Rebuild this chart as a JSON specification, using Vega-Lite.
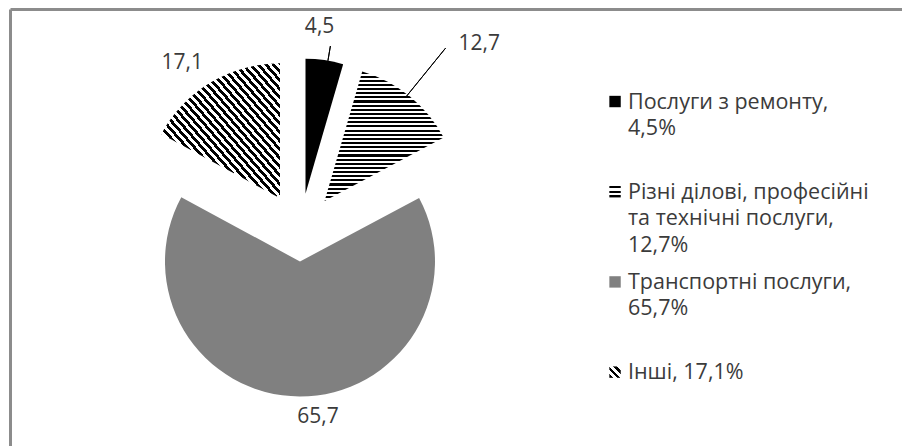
{
  "$schema": "https://vega.github.io/schema/vega-lite/v6.json",
  "width": 892,
  "height": 437,
  "autosize": {"type": "none"},
  "padding": {"left": 10, "top": 9, "right": 0, "bottom": 0},
  "background": "white",
  "config": {
    "view": {"stroke": null},
    "axis": {"domainColor": "#8c8c8c", "domainWidth": 3, "ticks": false, "labels": false, "grid": false, "title": null},
    "locale": {"number": {"decimal": ",", "thousands": " ", "grouping": [3], "currency": ["", ""]}},
    "text": {"font": "Open Sans", "fontSize": 20, "fill": "#3b3b3b"}
  },
  "data": {
    "values": [
      {"category": "Послуги з ремонту", "value": 4.5, "legend": "Послуги з ремонту,\n4,5%"},
      {"category": "Різні ділові, професійні та технічні послуги", "value": 12.7, "legend": "Різні ділові, професійні\nта технічні послуги,\n12,7%"},
      {"category": "Транспортні послуги", "value": 65.7, "legend": "Транспортні послуги,\n65,7%"},
      {"category": "Інші", "value": 17.1, "legend": "Інші, 17,1%"}
    ]
  },
  "transform": [{"stack": "value", "groupby": [], "as": ["v0", "v1"]}],
  "layer": [
    {
      "encoding": {
        "x": {"datum": 32.51, "type": "quantitative", "scale": {"domain": [0, 100]}, "axis": {"orient": "top", "title": null}}
      },
      "layer": [
        {
          "transform": [{"filter": {"field": "category", "equal": "Послуги з ремонту"}}],
          "encoding": {
            "theta": {"field": "v0", "type": "quantitative", "scale": {"domain": [0, 100]}},
            "theta2": {"field": "v1"}
          },
          "layer": [
            {"mark": {"type": "arc", "outerRadius": 135, "fill": "#000000", "xOffset": 5.5, "yOffset": -33.7}},
            {"mark": {"type": "arc", "innerRadius": 169, "outerRadius": 184, "filled": false, "fill": null, "stroke": "#000000", "strokeWidth": 1, "thetaOffset": 0.166, "theta2Offset": 0.166},
             "encoding": {"theta2": {"field": "v0"}}}
          ]
        },
        {
          "transform": [{"filter": {"field": "category", "equal": "Різні ділові, професійні та технічні послуги"}}],
          "encoding": {
            "theta": {"field": "v0", "type": "quantitative", "scale": {"domain": [0, 100]}},
            "theta2": {"field": "v1"}
          },
          "layer": [
            {"mark": {"type": "arc", "outerRadius": 135, "xOffset": 24.6, "yOffset": -26.4,
              "fill": {"gradient": "linear", "x1": 0, "y1": 0, "x2": 0, "y2": 1, "stops": [
                {"offset": 0, "color": "#000"}, {"offset": 0.016, "color": "#000"},
                {"offset": 0.016, "color": "#fff"}, {"offset": 0.032, "color": "#fff"},
                {"offset": 0.032, "color": "#000"}, {"offset": 0.048, "color": "#000"},
                {"offset": 0.048, "color": "#fff"}, {"offset": 0.064, "color": "#fff"},
                {"offset": 0.064, "color": "#000"}, {"offset": 0.08, "color": "#000"},
                {"offset": 0.08, "color": "#fff"}, {"offset": 0.096, "color": "#fff"},
                {"offset": 0.096, "color": "#000"}, {"offset": 0.112, "color": "#000"},
                {"offset": 0.112, "color": "#fff"}, {"offset": 0.128, "color": "#fff"},
                {"offset": 0.128, "color": "#000"}, {"offset": 0.144, "color": "#000"},
                {"offset": 0.144, "color": "#fff"}, {"offset": 0.16, "color": "#fff"},
                {"offset": 0.16, "color": "#000"}, {"offset": 0.176, "color": "#000"},
                {"offset": 0.176, "color": "#fff"}, {"offset": 0.192, "color": "#fff"},
                {"offset": 0.192, "color": "#000"}, {"offset": 0.208, "color": "#000"},
                {"offset": 0.208, "color": "#fff"}, {"offset": 0.224, "color": "#fff"},
                {"offset": 0.224, "color": "#000"}, {"offset": 0.24, "color": "#000"},
                {"offset": 0.24, "color": "#fff"}, {"offset": 0.256, "color": "#fff"},
                {"offset": 0.256, "color": "#000"}, {"offset": 0.272, "color": "#000"},
                {"offset": 0.272, "color": "#fff"}, {"offset": 0.288, "color": "#fff"},
                {"offset": 0.288, "color": "#000"}, {"offset": 0.304, "color": "#000"},
                {"offset": 0.304, "color": "#fff"}, {"offset": 0.32, "color": "#fff"},
                {"offset": 0.32, "color": "#000"}, {"offset": 0.336, "color": "#000"},
                {"offset": 0.336, "color": "#fff"}, {"offset": 0.352, "color": "#fff"},
                {"offset": 0.352, "color": "#000"}, {"offset": 0.368, "color": "#000"},
                {"offset": 0.368, "color": "#fff"}, {"offset": 0.384, "color": "#fff"},
                {"offset": 0.384, "color": "#000"}, {"offset": 0.4, "color": "#000"},
                {"offset": 0.4, "color": "#fff"}, {"offset": 0.416, "color": "#fff"},
                {"offset": 0.416, "color": "#000"}, {"offset": 0.432, "color": "#000"},
                {"offset": 0.432, "color": "#fff"}, {"offset": 0.448, "color": "#fff"},
                {"offset": 0.448, "color": "#000"}, {"offset": 0.464, "color": "#000"},
                {"offset": 0.464, "color": "#fff"}, {"offset": 0.48, "color": "#fff"},
                {"offset": 0.48, "color": "#000"}, {"offset": 0.496, "color": "#000"},
                {"offset": 0.496, "color": "#fff"}, {"offset": 0.512, "color": "#fff"},
                {"offset": 0.512, "color": "#000"}, {"offset": 0.528, "color": "#000"},
                {"offset": 0.528, "color": "#fff"}, {"offset": 0.544, "color": "#fff"},
                {"offset": 0.544, "color": "#000"}, {"offset": 0.56, "color": "#000"},
                {"offset": 0.56, "color": "#fff"}, {"offset": 0.576, "color": "#fff"},
                {"offset": 0.576, "color": "#000"}, {"offset": 0.592, "color": "#000"},
                {"offset": 0.592, "color": "#fff"}, {"offset": 0.608, "color": "#fff"},
                {"offset": 0.608, "color": "#000"}, {"offset": 0.624, "color": "#000"},
                {"offset": 0.624, "color": "#fff"}, {"offset": 0.64, "color": "#fff"},
                {"offset": 0.64, "color": "#000"}, {"offset": 0.656, "color": "#000"},
                {"offset": 0.656, "color": "#fff"}, {"offset": 0.672, "color": "#fff"},
                {"offset": 0.672, "color": "#000"}, {"offset": 0.688, "color": "#000"},
                {"offset": 0.688, "color": "#fff"}, {"offset": 0.704, "color": "#fff"},
                {"offset": 0.704, "color": "#000"}, {"offset": 0.72, "color": "#000"},
                {"offset": 0.72, "color": "#fff"}, {"offset": 0.736, "color": "#fff"},
                {"offset": 0.736, "color": "#000"}, {"offset": 0.752, "color": "#000"},
                {"offset": 0.752, "color": "#fff"}, {"offset": 0.768, "color": "#fff"},
                {"offset": 0.768, "color": "#000"}, {"offset": 0.784, "color": "#000"},
                {"offset": 0.784, "color": "#fff"}, {"offset": 0.8, "color": "#fff"},
                {"offset": 0.8, "color": "#000"}, {"offset": 0.816, "color": "#000"},
                {"offset": 0.816, "color": "#fff"}, {"offset": 0.832, "color": "#fff"},
                {"offset": 0.832, "color": "#000"}, {"offset": 0.848, "color": "#000"},
                {"offset": 0.848, "color": "#fff"}, {"offset": 0.864, "color": "#fff"},
                {"offset": 0.864, "color": "#000"}, {"offset": 0.88, "color": "#000"},
                {"offset": 0.88, "color": "#fff"}, {"offset": 0.896, "color": "#fff"},
                {"offset": 0.896, "color": "#000"}, {"offset": 0.912, "color": "#000"},
                {"offset": 0.912, "color": "#fff"}, {"offset": 0.928, "color": "#fff"},
                {"offset": 0.928, "color": "#000"}, {"offset": 0.944, "color": "#000"},
                {"offset": 0.944, "color": "#fff"}, {"offset": 0.96, "color": "#fff"},
                {"offset": 0.96, "color": "#000"}, {"offset": 0.976, "color": "#000"},
                {"offset": 0.976, "color": "#fff"}, {"offset": 0.992, "color": "#fff"},
                {"offset": 0.992, "color": "#000"}, {"offset": 1, "color": "#000"}
              ]}}},
            {"mark": {"type": "arc", "innerRadius": 169, "outerRadius": 231, "filled": false, "fill": null, "stroke": "#000000", "strokeWidth": 1, "thetaOffset": 0.399, "theta2Offset": 0.399},
             "encoding": {"theta2": {"field": "v0"}}}
          ]
        },
        {
          "transform": [{"filter": {"field": "category", "equal": "Транспортні послуги"}}],
          "encoding": {
            "theta": {"field": "v0", "type": "quantitative", "scale": {"domain": [0, 100]}},
            "theta2": {"field": "v1"}
          },
          "mark": {"type": "arc", "outerRadius": 135, "fill": "#808080", "xOffset": 0, "yOffset": 34}
        },
        {
          "transform": [{"filter": {"field": "category", "equal": "Інші"}}],
          "encoding": {
            "theta": {"field": "v0", "type": "quantitative", "scale": {"domain": [0, 100]}},
            "theta2": {"field": "v1"}
          },
          "mark": {"type": "arc", "outerRadius": 135, "xOffset": -20, "yOffset": -29.2,
            "fill": {"gradient": "linear", "x1": 0, "y1": 1, "x2": 1, "y2": 0, "stops": [
                {"offset": 0, "color": "#000"}, {"offset": 0.016, "color": "#000"},
                {"offset": 0.016, "color": "#fff"}, {"offset": 0.032, "color": "#fff"},
                {"offset": 0.032, "color": "#000"}, {"offset": 0.048, "color": "#000"},
                {"offset": 0.048, "color": "#fff"}, {"offset": 0.064, "color": "#fff"},
                {"offset": 0.064, "color": "#000"}, {"offset": 0.08, "color": "#000"},
                {"offset": 0.08, "color": "#fff"}, {"offset": 0.096, "color": "#fff"},
                {"offset": 0.096, "color": "#000"}, {"offset": 0.112, "color": "#000"},
                {"offset": 0.112, "color": "#fff"}, {"offset": 0.128, "color": "#fff"},
                {"offset": 0.128, "color": "#000"}, {"offset": 0.144, "color": "#000"},
                {"offset": 0.144, "color": "#fff"}, {"offset": 0.16, "color": "#fff"},
                {"offset": 0.16, "color": "#000"}, {"offset": 0.176, "color": "#000"},
                {"offset": 0.176, "color": "#fff"}, {"offset": 0.192, "color": "#fff"},
                {"offset": 0.192, "color": "#000"}, {"offset": 0.208, "color": "#000"},
                {"offset": 0.208, "color": "#fff"}, {"offset": 0.224, "color": "#fff"},
                {"offset": 0.224, "color": "#000"}, {"offset": 0.24, "color": "#000"},
                {"offset": 0.24, "color": "#fff"}, {"offset": 0.256, "color": "#fff"},
                {"offset": 0.256, "color": "#000"}, {"offset": 0.272, "color": "#000"},
                {"offset": 0.272, "color": "#fff"}, {"offset": 0.288, "color": "#fff"},
                {"offset": 0.288, "color": "#000"}, {"offset": 0.304, "color": "#000"},
                {"offset": 0.304, "color": "#fff"}, {"offset": 0.32, "color": "#fff"},
                {"offset": 0.32, "color": "#000"}, {"offset": 0.336, "color": "#000"},
                {"offset": 0.336, "color": "#fff"}, {"offset": 0.352, "color": "#fff"},
                {"offset": 0.352, "color": "#000"}, {"offset": 0.368, "color": "#000"},
                {"offset": 0.368, "color": "#fff"}, {"offset": 0.384, "color": "#fff"},
                {"offset": 0.384, "color": "#000"}, {"offset": 0.4, "color": "#000"},
                {"offset": 0.4, "color": "#fff"}, {"offset": 0.416, "color": "#fff"},
                {"offset": 0.416, "color": "#000"}, {"offset": 0.432, "color": "#000"},
                {"offset": 0.432, "color": "#fff"}, {"offset": 0.448, "color": "#fff"},
                {"offset": 0.448, "color": "#000"}, {"offset": 0.464, "color": "#000"},
                {"offset": 0.464, "color": "#fff"}, {"offset": 0.48, "color": "#fff"},
                {"offset": 0.48, "color": "#000"}, {"offset": 0.496, "color": "#000"},
                {"offset": 0.496, "color": "#fff"}, {"offset": 0.512, "color": "#fff"},
                {"offset": 0.512, "color": "#000"}, {"offset": 0.528, "color": "#000"},
                {"offset": 0.528, "color": "#fff"}, {"offset": 0.544, "color": "#fff"},
                {"offset": 0.544, "color": "#000"}, {"offset": 0.56, "color": "#000"},
                {"offset": 0.56, "color": "#fff"}, {"offset": 0.576, "color": "#fff"},
                {"offset": 0.576, "color": "#000"}, {"offset": 0.592, "color": "#000"},
                {"offset": 0.592, "color": "#fff"}, {"offset": 0.608, "color": "#fff"},
                {"offset": 0.608, "color": "#000"}, {"offset": 0.624, "color": "#000"},
                {"offset": 0.624, "color": "#fff"}, {"offset": 0.64, "color": "#fff"},
                {"offset": 0.64, "color": "#000"}, {"offset": 0.656, "color": "#000"},
                {"offset": 0.656, "color": "#fff"}, {"offset": 0.672, "color": "#fff"},
                {"offset": 0.672, "color": "#000"}, {"offset": 0.688, "color": "#000"},
                {"offset": 0.688, "color": "#fff"}, {"offset": 0.704, "color": "#fff"},
                {"offset": 0.704, "color": "#000"}, {"offset": 0.72, "color": "#000"},
                {"offset": 0.72, "color": "#fff"}, {"offset": 0.736, "color": "#fff"},
                {"offset": 0.736, "color": "#000"}, {"offset": 0.752, "color": "#000"},
                {"offset": 0.752, "color": "#fff"}, {"offset": 0.768, "color": "#fff"},
                {"offset": 0.768, "color": "#000"}, {"offset": 0.784, "color": "#000"},
                {"offset": 0.784, "color": "#fff"}, {"offset": 0.8, "color": "#fff"},
                {"offset": 0.8, "color": "#000"}, {"offset": 0.816, "color": "#000"},
                {"offset": 0.816, "color": "#fff"}, {"offset": 0.832, "color": "#fff"},
                {"offset": 0.832, "color": "#000"}, {"offset": 0.848, "color": "#000"},
                {"offset": 0.848, "color": "#fff"}, {"offset": 0.864, "color": "#fff"},
                {"offset": 0.864, "color": "#000"}, {"offset": 0.88, "color": "#000"},
                {"offset": 0.88, "color": "#fff"}, {"offset": 0.896, "color": "#fff"},
                {"offset": 0.896, "color": "#000"}, {"offset": 0.912, "color": "#000"},
                {"offset": 0.912, "color": "#fff"}, {"offset": 0.928, "color": "#fff"},
                {"offset": 0.928, "color": "#000"}, {"offset": 0.944, "color": "#000"},
                {"offset": 0.944, "color": "#fff"}, {"offset": 0.96, "color": "#fff"},
                {"offset": 0.96, "color": "#000"}, {"offset": 0.976, "color": "#000"},
                {"offset": 0.976, "color": "#fff"}, {"offset": 0.992, "color": "#fff"},
                {"offset": 0.992, "color": "#000"}, {"offset": 1, "color": "#000"}
              ]}}
        },
        {
          "mark": {"type": "text", "font": "Open Sans", "fontSize": 21, "fill": "#3b3b3b", "baseline": "middle",
            "radius": {"expr": "datum.value == 4.5 ? 203 : datum.value == 12.7 ? 231 : datum.value == 65.7 ? 189.5 : 191"},
            "dx": {"expr": "datum.value == 4.5 ? -9 : datum.value == 12.7 ? 13 : datum.value == 65.7 ? 18.6 : -20"},
            "dy": {"expr": "datum.value == 12.7 ? -4 : 0"},
            "align": {"expr": "datum.value == 12.7 ? 'left' : 'center'"}},
          "encoding": {
            "theta": {"field": "value", "type": "quantitative", "stack": true},
            "order": {"field": "v0", "type": "quantitative"},
            "text": {"field": "value", "type": "quantitative", "format": ".1f"}
          }
        }
      ]
    },
    {
      "encoding": {
        "y": {"field": "category", "type": "nominal",
          "axis": {"orient": "left", "domain": true, "title": null},
          "scale": {"type": "point", "padding": 0.9225, "align": 0.556,
            "domain": ["Послуги з ремонту", "Різні ділові, професійні та технічні послуги", "Транспортні послуги", "Інші"]}}
      },
      "layer": [
        {
          "transform": [{"filter": {"field": "category", "equal": "Послуги з ремонту"}}],
          "mark": {"type": "point", "shape": "square", "size": 130, "filled": true, "fill": "#000000", "strokeWidth": 0, "opacity": 1},
          "encoding": {"x": {"datum": 67.83, "type": "quantitative", "axis": {"orient": "top", "title": null}}}
        },
        {
          "transform": [{"filter": {"field": "category", "equal": "Різні ділові, професійні та технічні послуги"}}],
          "mark": {"type": "point", "shape": "square", "size": 130, "filled": true, "strokeWidth": 0, "opacity": 1,
            "fill": {"gradient": "linear", "x1": 0, "y1": 0, "x2": 0, "y2": 1, "stops": [
              {"offset": 0, "color": "#000"}, {"offset": 0.2, "color": "#000"},
              {"offset": 0.2, "color": "#fff"}, {"offset": 0.4, "color": "#fff"},
              {"offset": 0.4, "color": "#000"}, {"offset": 0.6, "color": "#000"},
              {"offset": 0.6, "color": "#fff"}, {"offset": 0.8, "color": "#fff"},
              {"offset": 0.8, "color": "#000"}, {"offset": 1, "color": "#000"}
            ]}},
          "encoding": {"x": {"datum": 67.83, "type": "quantitative", "axis": {"orient": "top", "title": null}}}
        },
        {
          "transform": [{"filter": {"field": "category", "equal": "Транспортні послуги"}}],
          "mark": {"type": "point", "shape": "square", "size": 130, "filled": true, "fill": "#808080", "strokeWidth": 0, "opacity": 1},
          "encoding": {"x": {"datum": 67.83, "type": "quantitative", "axis": {"orient": "top", "title": null}}}
        },
        {
          "transform": [{"filter": {"field": "category", "equal": "Інші"}}],
          "mark": {"type": "point", "shape": "square", "size": 130, "filled": true, "strokeWidth": 0, "opacity": 1,
            "fill": {"gradient": "linear", "x1": 0, "y1": 1, "x2": 1, "y2": 0, "stops": [
              {"offset": 0, "color": "#000"}, {"offset": 0.17, "color": "#000"},
              {"offset": 0.17, "color": "#fff"}, {"offset": 0.33, "color": "#fff"},
              {"offset": 0.33, "color": "#000"}, {"offset": 0.5, "color": "#000"},
              {"offset": 0.5, "color": "#fff"}, {"offset": 0.67, "color": "#fff"},
              {"offset": 0.67, "color": "#000"}, {"offset": 0.83, "color": "#000"},
              {"offset": 0.83, "color": "#fff"}, {"offset": 1, "color": "#fff"}
            ]}},
          "encoding": {"x": {"datum": 67.83, "type": "quantitative", "axis": {"orient": "top", "title": null}}}
        },
        {
          "mark": {"type": "text", "font": "Open Sans", "fontSize": 21.5, "fill": "#3b3b3b", "align": "left", "baseline": "alphabetic", "dy": 7, "lineBreak": "\n", "lineHeight": 26.5},
          "encoding": {
            "x": {"datum": 69.28, "type": "quantitative", "axis": {"orient": "top", "title": null}},
            "text": {"field": "legend", "type": "nominal"}
          }
        }
      ]
    }
  ]
}
